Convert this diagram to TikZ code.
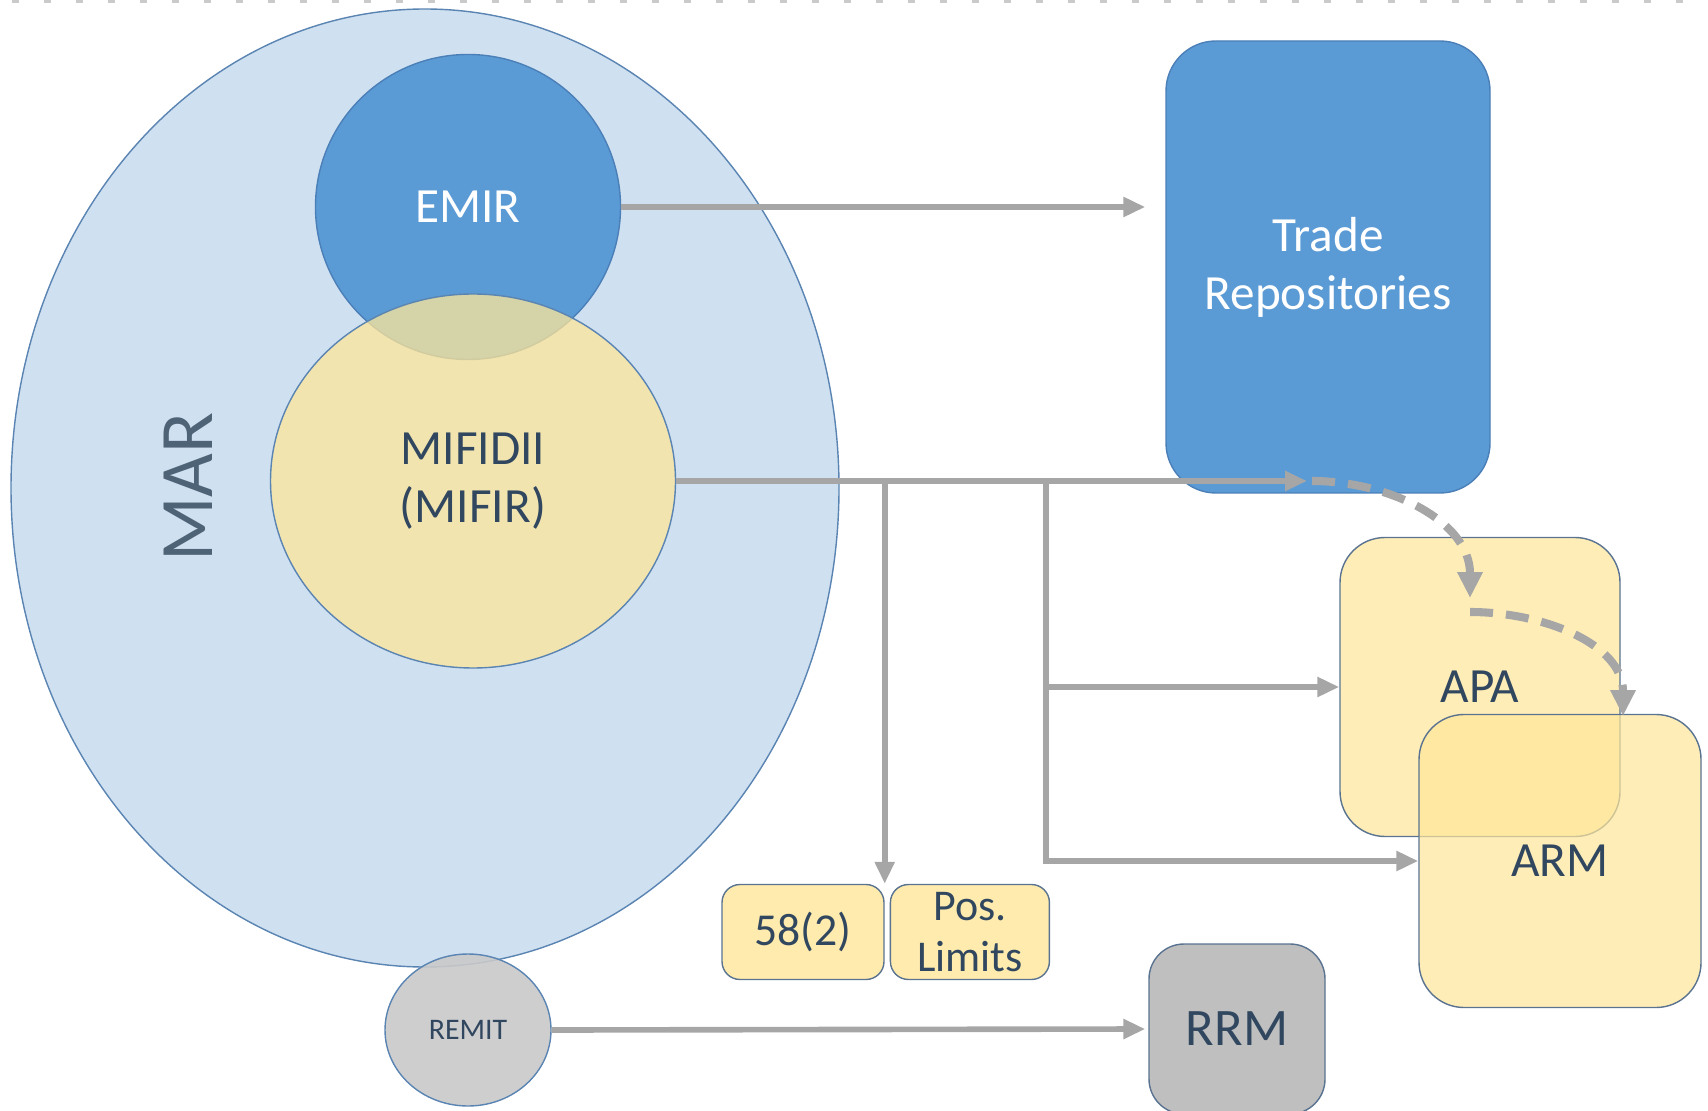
\documentclass[tikz,border=0pt]{standalone}
\usepackage{fontspec}
\setmainfont{Carlito}
\usepackage{xcolor}
\definecolor{marblue}{HTML}{CFE0F1}
\definecolor{maredge}{HTML}{5A84B2}
\definecolor{emirblue}{HTML}{5B9BD5}
\definecolor{emiredge}{HTML}{4B7FB8}
\definecolor{paleyellow}{HTML}{FFE699}
\definecolor{boxedge}{HTML}{5A7390}
\definecolor{inkblue}{HTML}{30475F}
\definecolor{arrowgray}{HTML}{A6A6A6}
\definecolor{remitgray}{HTML}{C9C9C9}
\definecolor{rrmgray}{HTML}{BFBFBF}
\usepackage{tikz}
\usetikzlibrary{arrows.meta,positioning,shapes.geometric,calc}

\begin{document}
\begin{tikzpicture}[x=0.1mm,y=-0.1mm,
  reg/.style={ellipse,draw=maredge,inner sep=0pt,align=center,text=inkblue,font=\fontsize{14}{16.5}\selectfont},
  venue/.style={draw=boxedge,rounded corners=4.5mm,inner sep=0pt,align=center,text=inkblue,font=\fontsize{14}{16.5}\selectfont},
  arr/.style={-{Triangle[length=2.2mm,width=1.9mm]},line width=1.6pt,arrowgray},
  darr/.style={-{Triangle[length=2.6mm,width=2.4mm]},line width=2.3pt,arrowgray,dash pattern=on 2.3mm off 1.3mm}]
\useasboundingbox (0,0) rectangle (1708,1111);
\draw[arrowgray!60,line width=0.5mm,dash pattern=on 0.7mm off 2.5mm] (12,1) -- (1708,1);
\node[reg,fill=marblue,minimum width=82.8mm,minimum height=95.8mm] (mar) at (425,488) {};
\node[rotate=90,text=inkblue!85,font=\fontsize{21.5}{24}\selectfont] (martxt) at (188,487) {MAR};
\node[reg,fill=emirblue,draw=emiredge,text=white,minimum width=30.5mm,minimum height=30.5mm] (emir) at (468,207) {EMIR};
\node[reg,fill=paleyellow,fill opacity=0.75,text opacity=1,minimum width=40.5mm,minimum height=37.4mm] (mifid) at (473,481) {MIFIDII\\(MIFIR)};
\node[venue,fill=emirblue,draw=emiredge,text=white,rounded corners=5mm,minimum width=32.4mm,minimum height=45.2mm] (tr) at (1328,267) {Trade\\Repositories};
\node[venue,fill=paleyellow,fill opacity=0.7,text opacity=1,minimum width=28mm,minimum height=29.9mm] (apa) at (1480,687) {APA};
\node[venue,fill=paleyellow,fill opacity=0.7,text opacity=1,minimum width=28.2mm,minimum height=29.3mm] (arm) at (1560,861) {ARM};
\node[venue,fill=paleyellow!80,rounded corners=1.8mm,minimum width=16.2mm,minimum height=9.5mm,font=\fontsize{13}{15}\selectfont] (art58) at (803,932) {58(2)};
\node[venue,fill=paleyellow!80,rounded corners=1.8mm,minimum width=15.9mm,minimum height=9.5mm,font=\fontsize{12.5}{14.7}\selectfont,right=0.5mm of art58] (poslim) {Pos.\\Limits};
\node[venue,fill=rrmgray,rounded corners=3.5mm,minimum width=17.6mm,minimum height=17mm,font=\fontsize{15}{18}\selectfont] (rrm) at (1237,1029) {RRM};
\node[reg,fill=remitgray,fill opacity=0.9,text opacity=1,minimum width=16.6mm,minimum height=15.2mm,font=\fontsize{8.5}{10}\selectfont] (remit) at (468,1030) {REMIT};
\coordinate (trin) at (1307,481);
\coordinate (fork) at (1046,481);
\coordinate (apain) at (1470,598);
\coordinate (apaout) at (1470,612);
\coordinate (armin) at (1623,716);
\draw[arr,shorten >=2mm] (emir.east) -- (tr.west |- emir.east);
\draw[arr] (mifid.east) -- (trin);
\draw[arr] (art58.north east |- mifid.east) -- (art58.north east);
\draw[arr] (fork) |- (apa.west);
\draw[arr] (fork) |- (arm.west);
\draw[arr,shorten >=0.3mm] (remit.east) -- (rrm.west);
\draw[darr] ([xshift=0.5mm]trin) to[out=0,in=90] (apain);
\draw[darr] (apaout) to[out=0,in=90] (armin);
\end{tikzpicture}
\end{document}
